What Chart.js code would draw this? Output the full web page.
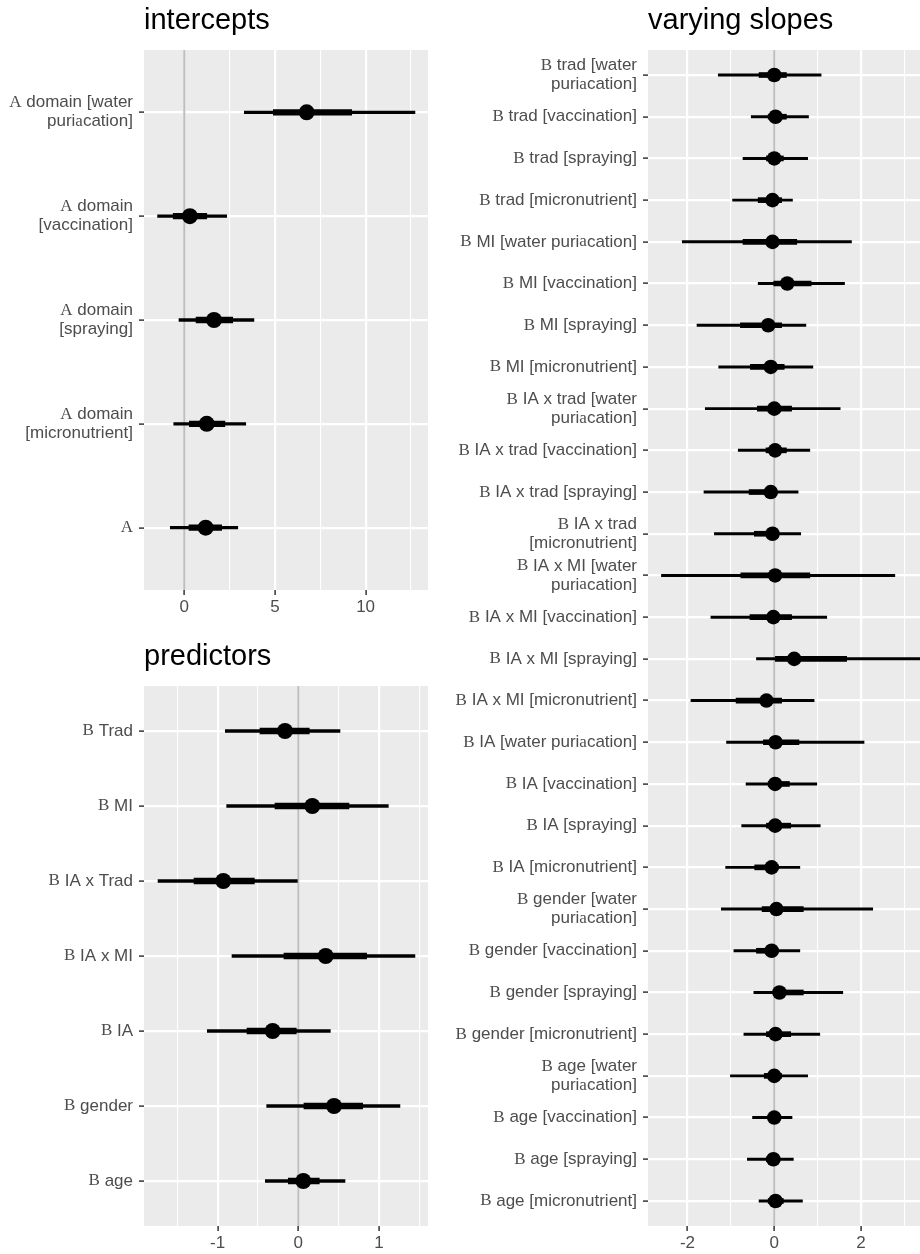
<!DOCTYPE html>
<html>
<head>
<meta charset="utf-8">
<script src="https://cdn.jsdelivr.net/npm/chart.js@4.4.0/dist/chart.umd.min.js"></script>
<style>
  html, body { margin: 0; padding: 0; background: #fff; }
  body { width: 920px; height: 1254px; position: relative; overflow: hidden; }
  canvas { position: absolute; }
</style>
</head>
<body>
<canvas id="intercepts" width="440" height="640" style="left:0;top:0"></canvas>
<canvas id="predictors" width="440" height="614" style="left:0;top:640px"></canvas>
<canvas id="slopes" width="500" height="1254" style="left:440px;top:0"></canvas>
<script>
// intercepts panel
const interceptLabels = ['A domain [water\npuriacation]', 'A domain\n[vaccination]', 'A domain\n[spraying]', 'A domain\n[micronutrient]', 'A'];
const interceptMean    = [6.75, 0.31, 1.64, 1.24, 1.18];
const interceptInnerLo = [4.91, -0.61, 0.65, 0.28, 0.26];
const interceptInnerHi = [9.23, 1.24, 2.67, 2.24, 2.06];
const interceptOuterLo = [3.31, -1.47, -0.29, -0.58, -0.77];
const interceptOuterHi = [12.72, 2.34, 3.84, 3.39, 2.95];
const interceptTicks = [0, 5, 10];
const interceptMinor = [2.5, 7.5, 12.5];

// predictors panel
const predictorLabels = ['B Trad', 'B MI', 'B IA x Trad', 'B IA x MI', 'B IA', 'B gender', 'B age'];
const predictorMean    = [-0.165, 0.174, -0.93, 0.339, -0.318, 0.443, 0.062];
const predictorInnerLo = [-0.475, -0.289, -1.293, -0.178, -0.636, 0.07, -0.124];
const predictorInnerHi = [0.136, 0.628, -0.545, 0.847, -0.025, 0.798, 0.26];
const predictorOuterLo = [-0.905, -0.888, -1.739, -0.822, -1.128, -0.392, -0.409];
const predictorOuterHi = [0.517, 1.116, -0.012, 1.446, 0.397, 1.26, 0.579];
const predictorTicks = [-1, 0, 1];
const predictorMinor = [-1.5, -0.5, 0.5, 1.5];

// varying slopes panel
const slopeLabels = [
  'B trad [water\npuriacation]', 'B trad [vaccination]', 'B trad [spraying]', 'B trad [micronutrient]',
  'B MI [water puriacation]', 'B MI [vaccination]', 'B MI [spraying]', 'B MI [micronutrient]',
  'B IA x trad [water\npuriacation]', 'B IA x trad [vaccination]', 'B IA x trad [spraying]', 'B IA x trad\n[micronutrient]',
  'B IA x MI [water\npuriacation]', 'B IA x MI [vaccination]', 'B IA x MI [spraying]', 'B IA x MI [micronutrient]',
  'B IA [water puriacation]', 'B IA [vaccination]', 'B IA [spraying]', 'B IA [micronutrient]',
  'B gender [water\npuriacation]', 'B gender [vaccination]', 'B gender [spraying]', 'B gender [micronutrient]',
  'B age [water\npuriacation]', 'B age [vaccination]', 'B age [spraying]', 'B age [micronutrient]'
];
const slopeMean    = [0.00, 0.03, 0.00, -0.04, -0.04, 0.30, -0.14, -0.08, 0.00, 0.02, -0.08, -0.04, 0.02, -0.02, 0.46, -0.18, 0.03, 0.02, 0.02, -0.06, 0.05, -0.06, 0.12, 0.03, 0.00, 0.00, -0.02, 0.03];
const slopeInnerLo = [-0.35, -0.14, -0.18, -0.37, -0.72, -0.01, -0.78, -0.55, -0.39, -0.19, -0.58, -0.46, -0.77, -0.56, 0.00, -0.88, -0.25, -0.14, -0.18, -0.45, -0.28, -0.41, -0.02, -0.18, -0.23, -0.14, -0.18, -0.14];
const slopeInnerHi = [0.28, 0.28, 0.21, 0.17, 0.52, 0.85, 0.17, 0.23, 0.40, 0.28, -0.02, 0.09, 0.82, 0.40, 1.67, 0.17, 0.57, 0.35, 0.38, 0.09, 0.67, 0.09, 0.67, 0.38, 0.17, 0.13, 0.13, 0.21];
const slopeOuterLo = [-1.29, -0.53, -0.72, -0.96, -2.12, -0.37, -1.78, -1.28, -1.59, -0.83, -1.62, -1.38, -2.60, -1.46, -0.41, -1.92, -1.10, -0.65, -0.75, -1.12, -1.22, -0.93, -0.47, -0.70, -1.01, -0.50, -0.62, -0.35];
const slopeOuterHi = [1.08, 0.79, 0.77, 0.42, 1.78, 1.62, 0.73, 0.89, 1.52, 0.82, 0.55, 0.61, 2.78, 1.21, 3.40, 0.92, 2.07, 0.98, 1.06, 0.59, 2.27, 0.59, 1.58, 1.05, 0.77, 0.41, 0.44, 0.65];
const slopeTicks = [-2, 0, 2];
const slopeMinor = [-1, 1, 3];

const TEXT = '#4d4d4d';
const SANS = '"Liberation Sans", Arial, sans-serif';
const SERIF = '"Liberation Serif", "DejaVu Serif", serif';

// split a label line into sans / serif pieces (the math "A"/"B" and the odd "a")
function pieces(line) {
  const out = [];
  let rest = line;
  if (/^[AB](\s|$)/.test(rest)) {
    out.push({ t: rest[0], serif: true });
    rest = rest.slice(1);
  }
  const k = rest.indexOf('puriacation');
  if (k >= 0) {
    out.push({ t: rest.slice(0, k + 4), serif: false });
    out.push({ t: 'a', serif: true });
    out.push({ t: rest.slice(k + 5), serif: false });
  } else {
    out.push({ t: rest, serif: false });
  }
  return out;
}

function decor(p) {
  return {
    id: 'decor',
    beforeDraw(chart) {
      const a = chart.chartArea, c = chart.ctx;
      c.save();
      c.fillStyle = '#ebebeb';
      c.fillRect(a.left, a.top, a.right - a.left, a.bottom - a.top);
      c.restore();
    },
    afterDraw(chart) {
      const a = chart.chartArea, c = chart.ctx;
      const yScale = chart.scales.y;
      c.save();
      c.fillStyle = '#000';
      c.font = '29px ' + SANS;
      c.textBaseline = 'alphabetic';
      c.textAlign = 'left';
      c.fillText(p.title, a.left, p.titleY);

      c.fillStyle = TEXT;
      c.textBaseline = 'middle';
      const fs = 17, lh = 19;
      p.labels.forEach((lab, i) => {
        const yc = yScale.getPixelForValue(i + 1);
        const lines = lab.split('\n');
        lines.forEach((ln, j) => {
          const y = yc + (j - (lines.length - 1) / 2) * lh;
          const parts = pieces(ln);
          let w = 0;
          parts.forEach(pt => {
            c.font = fs + 'px ' + (pt.serif ? SERIF : SANS);
            pt.w = c.measureText(pt.t).width;
            w += pt.w;
          });
          let x = a.left - 11 - w;
          parts.forEach(pt => {
            c.font = fs + 'px ' + (pt.serif ? SERIF : SANS);
            c.fillText(pt.t, x, y);
            x += pt.w;
          });
        });
      });
      c.restore();
    }
  };
}

function makePanel(id, p) {
  const n = p.labels.length;
  const rows = p.labels.map((_, i) => i + 1);
  const grid = p.majors.concat(p.minors);
  const isMajor = v => p.majors.includes(v);
  return new Chart(document.getElementById(id).getContext('2d'), {
    type: 'bar',
    data: {
      datasets: [
        {
          type: 'scatter', showLine: true,
          data: [{ x: 0, y: 0.4 }, { x: 0, y: n + 0.6 }],
          borderColor: '#bebebe', borderWidth: 2, pointRadius: 0, order: 3
        },
        {
          data: rows.map((r, i) => ({ y: r, x: [p.outerLo[i], p.outerHi[i]] })),
          backgroundColor: '#000', barThickness: p.thin, grouped: false, order: 2
        },
        {
          data: rows.map((r, i) => ({ y: r, x: [p.innerLo[i], p.innerHi[i]] })),
          backgroundColor: '#000', barThickness: p.thick, grouped: false, order: 1
        },
        {
          type: 'scatter',
          data: rows.map((r, i) => ({ y: r, x: p.mean[i] })),
          pointRadius: p.radius, backgroundColor: '#000', borderWidth: 0, order: 0
        }
      ]
    },
    options: {
      indexAxis: 'y',
      responsive: false,
      animation: false,
      events: [],
      layout: { padding: { top: p.top, right: p.right, left: 0, bottom: 0 } },
      plugins: { legend: { display: false }, tooltip: { enabled: false } },
      scales: {
        x: {
          type: 'linear', min: p.xMin, max: p.xMax, offset: false,
          afterBuildTicks: s => { s.ticks = grid.filter(v => v >= p.xMin && v <= p.xMax).sort((u, v) => u - v).map(v => ({ value: v })); },
          afterFit: s => { s.height = p.xAxisH; },
          grid: {
            offset: false,
            color: '#fff',
            lineWidth: c => isMajor(c.tick.value) ? 2.2 : 1.1,
            tickColor: c => isMajor(c.tick.value) ? '#333' : 'rgba(0,0,0,0)',
            tickLength: 5, tickWidth: 1.5
          },
          border: { display: false },
          ticks: {
            color: TEXT, font: { family: SANS, size: 17 }, padding: 2,
            maxRotation: 0, autoSkip: false,
            callback: v => isMajor(v) ? String(v) : ''
          }
        },
        y: {
          type: 'linear', reverse: true, min: 0.4, max: n + 0.6, offset: false,
          afterBuildTicks: s => { s.ticks = rows.map(v => ({ value: v })); },
          afterFit: s => { s.width = p.yAxisW; },
          grid: { offset: false, color: '#fff', lineWidth: 2.2, tickColor: '#333', tickLength: 5, tickWidth: 1.5 },
          border: { display: false },
          ticks: { display: false }
        }
      }
    },
    plugins: [decor(p)]
  });
}

makePanel('intercepts', {
  title: 'intercepts', titleY: 29, labels: interceptLabels,
  mean: interceptMean, innerLo: interceptInnerLo, innerHi: interceptInnerHi,
  outerLo: interceptOuterLo, outerHi: interceptOuterHi,
  majors: interceptTicks, minors: interceptMinor,
  xMin: -2.22, xMax: 13.44, top: 50, right: 12, xAxisH: 50, yAxisW: 144,
  thin: 2.6, thick: 5.6, radius: 8
});

makePanel('predictors', {
  title: 'predictors', titleY: 25, labels: predictorLabels,
  mean: predictorMean, innerLo: predictorInnerLo, innerHi: predictorInnerHi,
  outerLo: predictorOuterLo, outerHi: predictorOuterHi,
  majors: predictorTicks, minors: predictorMinor,
  xMin: -1.913, xMax: 1.608, top: 46, right: 12, xAxisH: 28, yAxisW: 144,
  thin: 2.6, thick: 5.6, radius: 8
});

makePanel('slopes', {
  title: 'varying slopes', titleY: 29, labels: slopeLabels,
  mean: slopeMean, innerLo: slopeInnerLo, innerHi: slopeInnerHi,
  outerLo: slopeOuterLo, outerHi: slopeOuterHi,
  majors: slopeTicks, minors: slopeMinor,
  xMin: -2.91, xMax: 3.36, top: 50, right: 20, xAxisH: 28, yAxisW: 208,
  thin: 2.3, thick: 5, radius: 7.3
});
</script>
</body>
</html>
